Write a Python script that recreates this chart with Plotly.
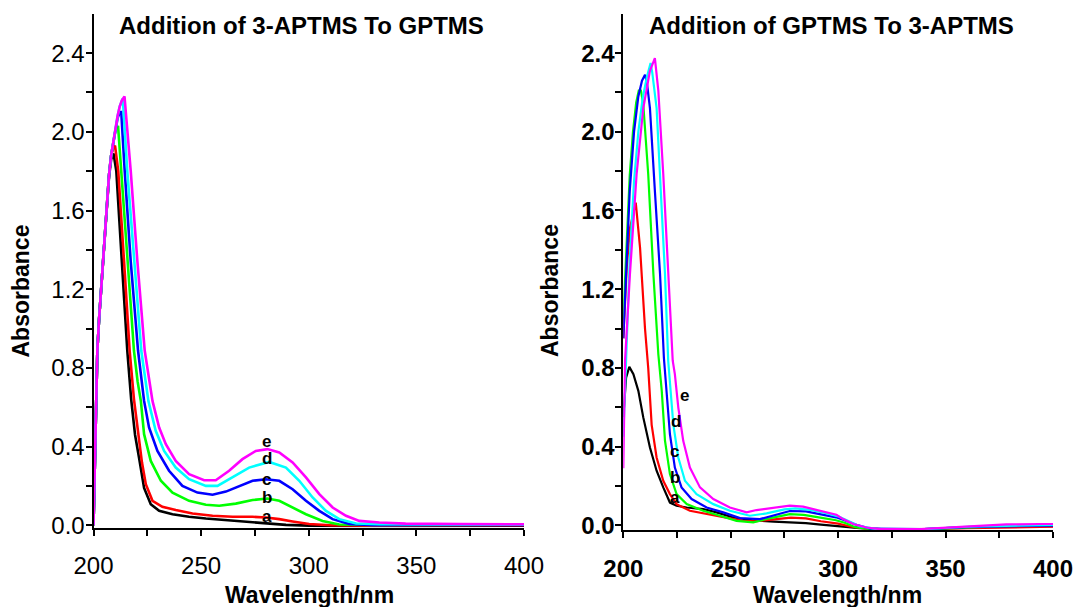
import plotly.graph_objects as go

# ---------------- Data ----------------
# Left panel: Addition of 3-APTMS To GPTMS
L_black_x = [200, 200.6, 201.2, 201.8, 202.6, 203.5, 204.4, 205.3, 206.2, 207.2, 208.2, 209.3, 210.6, 213.1, 215.7, 217.5, 219.3, 221.2, 223.5, 226.6, 230.5, 236.7, 244.4, 252.2, 261.5, 270.8, 280.1, 289.4, 300, 320, 350, 400]
L_black_y = [0.0, 0.30, 0.60, 0.89, 1.05, 1.19, 1.34, 1.49, 1.64, 1.77, 1.86, 1.89, 1.80, 1.34, 0.887, 0.64, 0.46, 0.34, 0.19, 0.107, 0.073, 0.056, 0.043, 0.034, 0.026, 0.019, 0.009, 0.002, -0.002, -0.004, -0.003, -0.002]

L_red_x = [200, 200.6, 201.2, 201.8, 202.6, 203.5, 204.4, 205.3, 206.2, 207.2, 208.2, 209.2, 210.0, 211.5, 214.2, 216.8, 218.8, 220.9, 222.5, 224.3, 227.4, 232.0, 238.2, 246.0, 255.3, 264.6, 273.9, 280.1, 286.3, 292.5, 300.2, 310, 330, 360, 400]
L_red_y = [0.0, 0.30, 0.60, 0.89, 1.05, 1.19, 1.34, 1.49, 1.64, 1.78, 1.88, 1.92, 1.93, 1.80, 1.34, 0.887, 0.64, 0.45, 0.32, 0.209, 0.124, 0.094, 0.077, 0.060, 0.048, 0.043, 0.043, 0.039, 0.031, 0.019, 0.006, 0.0, -0.002, 0.0, 0.0]

L_green_x = [200, 200.6, 201.2, 201.8, 202.6, 203.5, 204.4, 205.3, 206.2, 207.2, 208.2, 209.2, 210.2, 211.4, 212.9, 215.7, 218.8, 220.5, 222.0, 223.5, 226.6, 231.3, 236.7, 244.4, 252.2, 258.4, 266.1, 273.9, 280.8, 286.3, 292.5, 298.7, 306.4, 314.2, 330, 360, 390, 400]
L_green_y = [0.0, 0.30, 0.60, 0.89, 1.05, 1.19, 1.34, 1.49, 1.64, 1.78, 1.88, 1.95, 2.01, 2.03, 1.80, 1.34, 0.887, 0.73, 0.632, 0.463, 0.327, 0.226, 0.166, 0.124, 0.104, 0.099, 0.110, 0.128, 0.136, 0.124, 0.090, 0.056, 0.022, 0.004, 0.001, 0.002, 0.004, 0.003]

L_blue_x = [200, 200.6, 201.2, 201.8, 202.6, 203.5, 204.4, 205.3, 206.2, 207.2, 208.2, 209.2, 210.2, 211.2, 212.2, 212.9, 214.5, 217.3, 220.7, 223.5, 225.8, 229.7, 235.1, 241.3, 248.3, 255.3, 261.5, 267.7, 273.9, 280.1, 286.3, 292.5, 298.7, 304.9, 311.1, 318.8, 330, 360, 400]
L_blue_y = [0.0, 0.30, 0.60, 0.89, 1.05, 1.19, 1.34, 1.49, 1.64, 1.78, 1.88, 1.95, 2.02, 2.07, 2.10, 2.10, 1.80, 1.34, 0.887, 0.632, 0.497, 0.378, 0.277, 0.200, 0.166, 0.155, 0.171, 0.200, 0.226, 0.234, 0.226, 0.183, 0.124, 0.073, 0.031, 0.006, 0.0, 0.002, 0.002]

L_cyan_x = [200, 200.6, 201.2, 201.8, 202.6, 203.5, 204.4, 205.3, 206.2, 207.2, 208.2, 209.2, 210.2, 211.2, 212.2, 213.6, 215.7, 218.8, 222.2, 225.5, 228.9, 232.8, 238.2, 244.4, 252.2, 257.6, 264.6, 272.3, 281.6, 289.4, 295.6, 301.8, 308.0, 314.2, 322.0, 332.8, 360, 400]
L_cyan_y = [0.0, 0.30, 0.60, 0.89, 1.05, 1.19, 1.34, 1.49, 1.64, 1.78, 1.88, 1.95, 2.02, 2.08, 2.13, 2.17, 1.80, 1.34, 0.887, 0.632, 0.480, 0.378, 0.293, 0.234, 0.200, 0.200, 0.243, 0.293, 0.322, 0.293, 0.226, 0.141, 0.073, 0.031, 0.009, 0.005, 0.004, 0.004]

L_magenta_x = [200, 200.6, 201.2, 201.8, 202.6, 203.5, 204.4, 205.3, 206.2, 207.2, 208.2, 209.2, 210.2, 211.2, 212.2, 213.2, 214.4, 217.3, 220.4, 223.8, 227.4, 230.5, 233.6, 238.2, 244.4, 251.4, 256.8, 263.0, 269.2, 275.4, 280.8, 286.3, 292.5, 298.7, 304.9, 311.1, 317.3, 323.5, 332.8, 345, 370, 400]
L_magenta_y = [0.0, 0.30, 0.60, 0.89, 1.05, 1.19, 1.34, 1.49, 1.64, 1.78, 1.88, 1.95, 2.02, 2.08, 2.13, 2.16, 2.18, 1.80, 1.34, 0.887, 0.632, 0.497, 0.412, 0.327, 0.260, 0.229, 0.229, 0.277, 0.336, 0.378, 0.387, 0.370, 0.319, 0.243, 0.158, 0.090, 0.048, 0.022, 0.014, 0.008, 0.006, 0.005]

# Right panel: Addition of GPTMS To 3-APTMS
R_black_x = [200, 201.3, 202.8, 204.7, 207.0, 209.3, 212.4, 215.5, 218.6, 221.7, 224.8, 229.5, 237.2, 243.4, 251.2, 260, 270, 278, 285, 292, 300, 310, 320, 340, 360, 380, 400]
R_black_y = [0.55, 0.75, 0.805, 0.768, 0.683, 0.548, 0.395, 0.277, 0.192, 0.115, 0.099, 0.090, 0.082, 0.065, 0.039, 0.025, 0.018, 0.015, 0.010, 0.003, -0.005, -0.015, -0.020, -0.020, -0.010, -0.005, -0.005]

R_red_x = [200, 201.6, 203.1, 205.8, 207.8, 210.1, 211.6, 213.2, 215.5, 218.6, 221.7, 224.8, 231.0, 238.7, 246.5, 255.8, 262, 270, 278, 285, 292, 300, 306, 315, 340, 360, 380, 400]
R_red_y = [0.95, 1.31, 1.51, 1.64, 1.41, 1.00, 0.80, 0.51, 0.344, 0.226, 0.158, 0.107, 0.073, 0.056, 0.039, 0.022, 0.020, 0.030, 0.038, 0.035, 0.020, 0.008, -0.008, -0.020, -0.022, -0.015, -0.010, -0.008]

R_green_x = [200, 201.5, 203.0, 204.5, 206.0, 207.2, 208.2, 209.3, 211.6, 214.0, 216.3, 217.9, 219.4, 221.7, 224.8, 229.5, 237.2, 245.0, 252.7, 260.5, 268, 277.5, 284, 291, 299, 303, 308, 315, 340, 360, 375, 400]
R_green_y = [1.05, 1.45, 1.78, 2.00, 2.15, 2.21, 2.21, 2.14, 1.785, 1.277, 0.87, 0.683, 0.43, 0.26, 0.158, 0.107, 0.073, 0.048, 0.022, 0.014, 0.035, 0.056, 0.052, 0.040, 0.025, 0.012, -0.010, -0.020, -0.022, -0.012, -0.005, 0.0]

R_blue_x = [200, 201.5, 203.0, 205.0, 207.0, 208.7, 210.1, 211.0, 212.4, 214.7, 217.1, 218.9, 220.2, 221.7, 224.0, 227.1, 231.8, 238.8, 246.5, 254.3, 263.6, 270, 277.5, 285, 292, 299, 303, 309, 315, 340, 360, 400]
R_blue_y = [0.95, 1.35, 1.70, 2.00, 2.18, 2.26, 2.29, 2.25, 2.12, 1.70, 1.277, 0.85, 0.683, 0.463, 0.293, 0.192, 0.133, 0.090, 0.065, 0.036, 0.031, 0.050, 0.072, 0.070, 0.055, 0.040, 0.025, 0.0, -0.018, -0.020, -0.010, -0.002]

R_cyan_x = [200, 201.5, 203.0, 205.0, 207.0, 209.0, 211.0, 212.7, 213.5, 215.5, 217.9, 219.4, 220.9, 221.4, 223.3, 225.6, 228.7, 234.1, 241.9, 249.6, 258.9, 266.7, 275, 280, 287, 294, 300, 304, 310, 318, 340, 360, 400]
R_cyan_y = [0.45, 0.95, 1.35, 1.75, 2.00, 2.17, 2.28, 2.35, 2.30, 2.12, 1.615, 1.277, 0.836, 0.77, 0.51, 0.344, 0.226, 0.158, 0.107, 0.073, 0.048, 0.060, 0.080, 0.085, 0.078, 0.062, 0.045, 0.025, -0.005, -0.020, -0.020, -0.008, 0.002]

R_magenta_x = [200, 200.4, 200.8, 203.1, 206.2, 209.3, 212.4, 214.7, 216.3, 218.6, 220.9, 223.0, 224.0, 225.6, 227.9, 231.0, 235.7, 241.9, 249.6, 254.3, 257.4, 262.0, 269.8, 277.5, 283.7, 291.5, 299.2, 302.3, 307.0, 313.2, 319.4, 338, 347.3, 362.8, 378.3, 393.8, 400]
R_magenta_y = [0.29, 0.50, 0.836, 1.277, 1.785, 2.12, 2.31, 2.375, 2.21, 1.785, 1.277, 0.836, 0.768, 0.598, 0.429, 0.293, 0.192, 0.133, 0.090, 0.073, 0.065, 0.077, 0.090, 0.099, 0.094, 0.073, 0.053, 0.031, 0.006, -0.012, -0.020, -0.020, -0.015, -0.003, 0.004, 0.006, 0.006]

# Curve labels (letter, wavelength, absorbance)
L_label_text = ["e", "d", "c", "b", "a"]
L_label_x = [280.5, 280.5, 280.5, 280.5, 280.5]
L_label_y = [0.425, 0.337, 0.231, 0.141, 0.043]
R_label_text = ["e", "d", "c", "b", "a"]
R_label_x = [228.5, 224.5, 224.0, 224.2, 224.0]
R_label_y = [0.66, 0.525, 0.375, 0.24, 0.14]

titles = ["Addition of 3-APTMS To GPTMS", "Addition of GPTMS To 3-APTMS"]
x_title = "Wavelength/nm"
y_title = "Absorbance"

x_tickvals = [200, 225, 250, 275, 300, 325, 350, 375, 400]
x_ticktext = ["200", "", "250", "", "300", "", "350", "", "400"]
y_tickvals = [0.0, 0.2, 0.4, 0.6, 0.8, 1.0, 1.2, 1.4, 1.6, 1.8, 2.0, 2.2, 2.4]
y_ticktext = ["0.0", "", "0.4", "", "0.8", "", "1.2", "", "1.6", "", "2.0", "", "2.4"]

colors = ["#000000", "#ff0000", "#00ff00", "#0000ff", "#00ffff", "#ff00ff"]

# ---------------- Figure ----------------
W, H = 1076, 607
FONT = "Liberation Sans, Arial, sans-serif"
fig = go.Figure()

left = [(L_black_x, L_black_y), (L_red_x, L_red_y), (L_green_x, L_green_y),
        (L_blue_x, L_blue_y), (L_cyan_x, L_cyan_y), (L_magenta_x, L_magenta_y)]
right = [(R_black_x, R_black_y), (R_red_x, R_red_y), (R_green_x, R_green_y),
         (R_blue_x, R_blue_y), (R_cyan_x, R_cyan_y), (R_magenta_x, R_magenta_y)]

for (xs, ys), c in zip(left, colors):
    fig.add_trace(go.Scatter(x=xs, y=ys, mode="lines", line=dict(color=c, width=2.6),
                             xaxis="x", yaxis="y", showlegend=False, hoverinfo="skip"))
for (xs, ys), c in zip(right, colors):
    fig.add_trace(go.Scatter(x=xs, y=ys, mode="lines", line=dict(color=c, width=2.2),
                             xaxis="x2", yaxis="y2", showlegend=False, hoverinfo="skip"))


def px_x(p):
    return p / W


def px_y(p):
    return (H - p) / H


def xaxis_cfg(dom, anchor, bold):
    return dict(domain=dom, range=[200, 400], anchor=anchor, showline=True, linecolor="black",
                linewidth=2, ticks="outside", ticklen=6, tickwidth=2, tickcolor="black",
                tickvals=x_tickvals, ticktext=x_ticktext, showgrid=False, zeroline=False,
                tickfont=dict(family=FONT, size=24, color="black", weight="bold" if bold else "normal"),
                ticklabelstandoff=10, fixedrange=True, automargin=False)


def yaxis_cfg(dom, rng, anchor, bold):
    return dict(domain=dom, range=rng, anchor=anchor, showline=True, linecolor="black",
                linewidth=2, ticks="outside", ticklen=6, tickwidth=2, tickcolor="black",
                tickvals=y_tickvals, ticktext=y_ticktext, showgrid=False, zeroline=False,
                tickfont=dict(family=FONT, size=24, color="black", weight="bold" if bold else "normal"),
                ticklabelstandoff=-4, fixedrange=True, automargin=False)


annotations = []
# titles
for cx, t in zip([301.5, 831], titles):
    annotations.append(dict(text=t, x=px_x(cx), y=px_y(25.8), xref="paper", yref="paper",
                            xanchor="center", yanchor="middle", showarrow=False,
                            font=dict(family=FONT, size=24, color="black", weight="bold")))
# axis titles
for cx in [309, 837]:
    annotations.append(dict(text=x_title, x=px_x(cx), y=0.0, xref="paper", yref="paper",
                            xanchor="center", yanchor="bottom", showarrow=False, yshift=-3,
                            font=dict(family=FONT, size=23, color="black", weight="bold")))
for cx in [20.5, 550]:
    annotations.append(dict(text=y_title, x=px_x(cx), y=px_y(291), xref="paper", yref="paper",
                            xanchor="center", yanchor="middle", showarrow=False, textangle=-90,
                            font=dict(family=FONT, size=23, color="black", weight="bold")))
# curve labels
for t, xv, yv in zip(L_label_text, L_label_x, L_label_y):
    annotations.append(dict(text=t, x=xv, y=yv, xref="x", yref="y", showarrow=False,
                            xanchor="center", yanchor="middle",
                            font=dict(family=FONT, size=17, color="black", weight="bold")))
for t, xv, yv in zip(R_label_text, R_label_x, R_label_y):
    annotations.append(dict(text=t, x=xv, y=yv, xref="x2", yref="y2", showarrow=False,
                            xanchor="center", yanchor="middle",
                            font=dict(family=FONT, size=17, color="black", weight="bold")))

fig.update_layout(
    width=W, height=H, autosize=False,
    margin=dict(l=0, r=0, t=0, b=0, pad=0, autoexpand=False),
    paper_bgcolor="white", plot_bgcolor="white",
    showlegend=False,
    xaxis=xaxis_cfg([px_x(93.5), px_x(524)], "y", False),
    yaxis=yaxis_cfg([px_y(527.6), px_y(13.8)], [-0.012, 2.6], "x", False),
    xaxis2=xaxis_cfg([px_x(623.3), px_x(1053)], "y2", True),
    yaxis2=yaxis_cfg([px_y(530.1), px_y(13.8)], [-0.025, 2.6], "x2", True),
    annotations=annotations,
)

# Remove the page's default body margin so the figure fills the window exactly.
fig.write_html("out.html", config={"displayModeBar": False},
               post_script="document.body.style.margin='0';document.body.style.overflow='hidden';")
